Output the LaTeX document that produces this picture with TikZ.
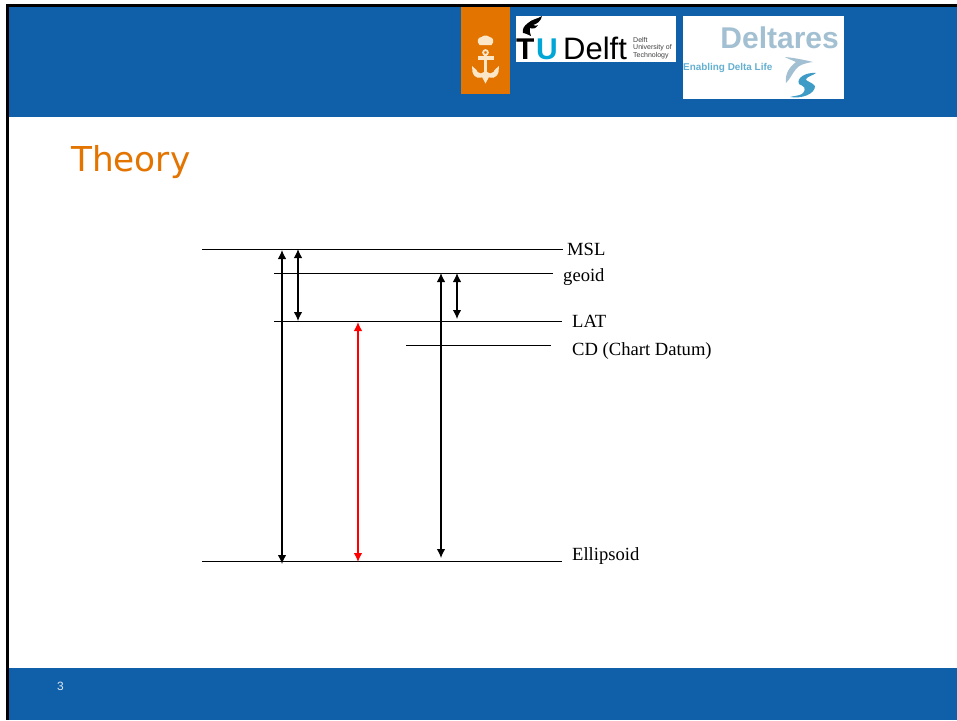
\documentclass[tikz,border=0pt]{standalone}
\usepackage{fontspec}
\setmainfont{Liberation Serif}
\newfontfamily\titlefont{DejaVu Sans}
\newfontfamily\logofont{Liberation Sans}
\usetikzlibrary{arrows.meta}
\definecolor{bandblue}{HTML}{0F60A9}
\definecolor{tudorange}{HTML}{E37400}
\definecolor{tublue}{HTML}{00A6D6}
\definecolor{delgrey}{HTML}{A3C0D2}
\definecolor{delblue}{HTML}{3F9CC6}
\definecolor{anchorcol}{HTML}{FBE6C8}
\tikzset{
  level/.style={draw=black,line width=1pt},
  span/.style={draw=black,line width=1.25pt,{Latex[length=9pt,width=8.5pt]}-{Latex[length=9pt,width=8.5pt]}},
  redspan/.style={span,draw=red,{Latex[length=9pt,width=8.5pt,color=red]}-{Latex[length=9pt,width=8.5pt,color=red]}},
  lab/.style={anchor=base west,inner sep=0pt,font=\fontsize{18.6}{18.6}\selectfont},
}
\begin{document}
\begin{tikzpicture}[x=1pt,y=-1pt]
\useasboundingbox (0,0) rectangle (957,720);
\fill[white] (0,0) rectangle (957,720);
% bands and frame
\fill[bandblue] (8,5) rectangle (957,117);
\fill[bandblue] (8,668) rectangle (957,720);
\fill[black] (6,4) rectangle (957,7);
\fill[black] (6,4) rectangle (9,720);
% logos
\fill[tudorange] (461,7) rectangle (510,94);
\begin{scope}[shift={(485.5,0)},fill=anchorcol,draw=anchorcol]
  \fill (-6,45) .. controls (-9,42) and (-8,37) .. (-4,37) .. controls (-2,35) and (2,35) .. (4,37) .. controls (8,37) and (9,42) .. (6,45) -- cycle;
  \draw[line width=1.8pt,fill=none] (0,52.5) circle (2.4);
  \fill (-1.8,54) rectangle (1.8,78);
  \fill (-8,56) rectangle (8,59.5);
  \fill (-13,72) .. controls (-11,79) and (-5,79) .. (-1,76) -- (1,76) .. controls (5,79) and (11,79) .. (13,72) -- (13.5,66) -- (9,70) -- (8,72) .. controls (6,74) and (3,74) .. (1.5,72) -- (-1.5,72) .. controls (-3,74) and (-6,74) .. (-8,72) -- (-9,70) -- (-13.5,66) -- cycle;
  \fill (-4,76) -- (4,76) -- (0,83.5) -- cycle;
\end{scope}
\fill[white] (516,16) rectangle (676,62);
\fill[black] (528,23) .. controls (532,19) and (538,19) .. (542,16) .. controls (541,21) and (537,24) .. (533,25) .. controls (535,26) and (537,26) .. (538,25) .. controls (536,29) and (532,29) .. (530,28) .. controls (529,30) and (530,33) .. (531,36) .. controls (527,34) and (524,33) .. (523,33) .. controls (522,29) and (524,26) .. (528,23) -- cycle;
\node[inner sep=0pt,anchor=base west,font=\logofont\bfseries\fontsize{30}{30}\selectfont] (tlogo) at (516,59) {T};
\node[inner sep=0pt,anchor=base west,font=\logofont\bfseries\fontsize{30}{30}\selectfont,text=tublue] (ulogo) at (536,59) {U};
\node[inner sep=0pt,anchor=base west,font=\logofont\fontsize{31}{31}\selectfont] (dlogo) at (563,59) {Delft};
\node[inner sep=0pt,anchor=north west,align=left,font=\logofont\fontsize{7}{7.6}\selectfont,text=black!75] (dut) at (633,37) {Delft\\University of\\Technology};
\fill[white] (683,16) rectangle (844,99);
\node[inner sep=0pt,anchor=base east,font=\logofont\bfseries\fontsize{30}{30}\selectfont,text=delgrey] (del) at (839,48) {Deltares};
\node[inner sep=0pt,anchor=base west,font=\logofont\bfseries\fontsize{9.9}{9.9}\selectfont,text=delblue!80] (edl) at (683,70) {Enabling Delta Life};
\fill[delgrey] (785,57) .. controls (795,58) and (805,60) .. (813,62) .. controls (805,63) and (799,65) .. (796,69) .. controls (792,74) and (790,79) .. (786,83) .. controls (785,75) and (788,68) .. (796,62) .. controls (792,60) and (788,59) .. (785,57) -- cycle;
\fill[delblue] (816,73) .. controls (806,72) and (796,78) .. (799,84) .. controls (803,86) and (808,88) .. (802,94) .. controls (798,96) and (793,96) .. (790,97) .. controls (802,99) and (815,94) .. (815,86) .. controls (812,82) and (805,81) .. (806,79) .. controls (808,76) and (812,76) .. (816,73) -- cycle;
% title and page number
\node[inner sep=0pt,anchor=base west,font=\titlefont\fontsize{34.3}{34.3}\selectfont,text=tudorange] (title) at (71,171) {Theory};
\node[inner sep=0pt,anchor=base,font=\logofont\fontsize{12}{12}\selectfont,text=white!85!bandblue] (page) at (60.5,690) {3};
% level lines
\coordinate (mslL) at (202,249); \coordinate (mslR) at (563,249);
\coordinate (geoL) at (274,273); \coordinate (geoR) at (553,273);
\coordinate (latL) at (274,321); \coordinate (latR) at (562,321);
\coordinate (cdL) at (406,345); \coordinate (cdR) at (551,345);
\coordinate (ellL) at (202,561); \coordinate (ellR) at (562,561);
\draw[level] (mslL) -- (mslR);
\draw[level] (geoL) -- (geoR);
\draw[level] (latL) -- (latR);
\draw[level] (cdL) -- (cdR);
\draw[level] (ellL) -- (ellR);
% arrows
\coordinate (a1t) at (282,250); \coordinate (a1b) at (282,564);
\coordinate (a2t) at (298,249); \coordinate (a2b) at (298,321);
\coordinate (a3t) at (358,322); \coordinate (a3b) at (358,562);
\coordinate (a4t) at (441,273); \coordinate (a4b) at (441,558);
\coordinate (a5t) at (457,273); \coordinate (a5b) at (457,319);
\draw[span] (a1t) -- (a1b);
\draw[span] (a2t) -- (a2b);
\draw[redspan] (a3t) -- (a3b);
\draw[span] (a4t) -- (a4b);
\draw[span] (a5t) -- (a5b);
% labels
\node[lab] (msl) at (567,255.5) {MSL};
\node[lab] (geoid) at (563,281) {geoid};
\node[lab] (lat) at (572,327.5) {LAT};
\node[lab] (cd) at (572,355.5) {CD (Chart Datum)};
\node[lab] (ell) at (572,560) {Ellipsoid};
\end{tikzpicture}
\end{document}
